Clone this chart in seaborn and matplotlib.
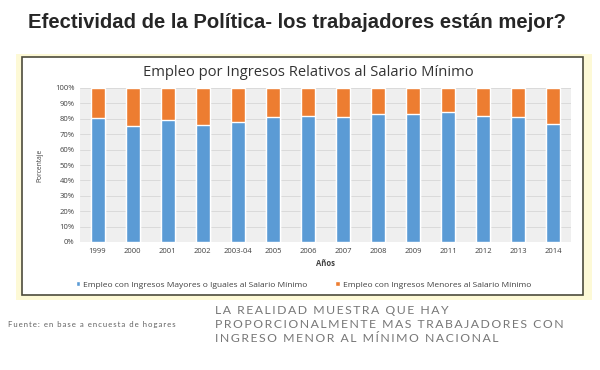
import numpy as np
import pandas as pd
import matplotlib
matplotlib.use("Agg")
import matplotlib.pyplot as plt
import seaborn as sns
from matplotlib.patches import Rectangle
from matplotlib.ticker import PercentFormatter

years = ["1999", "2000", "2001", "2002", "2003-04", "2005", "2006", "2007",
         "2008", "2009", "2011", "2012", "2013", "2014"]
mayores = [80.7, 75.5, 79.4, 76.2, 78.1, 81.2, 82.0, 81.2,
           83.3, 83.3, 84.6, 81.8, 81.2, 76.8]
menores = [19.3, 24.5, 20.6, 23.8, 21.9, 18.8, 18.0, 18.8,
           16.7, 16.7, 15.4, 18.2, 18.8, 23.2]
serie_may = "Empleo con Ingresos Mayores o Iguales al Salario Mínimo"
serie_men = "Empleo con Ingresos Menores al Salario Mínimo"
nota = ["LA REALIDAD MUESTRA QUE HAY",
        "PROPORCIONALMENTE MAS TRABAJADORES CON",
        "INGRESO MENOR AL MÍNIMO NACIONAL"]

df = pd.DataFrame({"anio": years, "may": mayores, "men": menores})
df["total"] = df["may"] + df["men"]

blue = "#5B9BD5"
orange = "#ED7D31"

sns.set_style("white")
plt.rcParams["font.family"] = ["Open Sans", "DejaVu Sans"]

W, H = 600, 370
fig = plt.figure(figsize=(6, 3.7), dpi=100)
fig.patch.set_facecolor("white")

def px(x0, y0, x1, y1):
    return (x0 / W, 1 - y1 / H, (x1 - x0) / W, (y1 - y0) / H)

def espaciar(s):
    # letter spacing like the slide text
    return "\u2009".join(s)

# yellow frame + dark inner border
r = px(16, 54, 592, 300)
fig.patches.append(Rectangle(r[:2], r[2], r[3], transform=fig.transFigure,
                             facecolor="#fdf9d6", edgecolor="none", zorder=-2))
r = px(22, 57, 583, 295)
fig.patches.append(Rectangle(r[:2], r[2], r[3], transform=fig.transFigure,
                             facecolor="white", edgecolor="#4d4b3c", lw=1.2, zorder=-1))

ax = fig.add_axes(px(80, 88, 571, 242))
ax.set_zorder(2)
ax.set_facecolor("#efefef")
sns.barplot(data=df, x="anio", y="total", color=orange, width=0.4,
            saturation=1, ax=ax, label=serie_men, zorder=3)
sns.barplot(data=df, x="anio", y="may", color=blue, width=0.4,
            saturation=1, ax=ax, label=serie_may, zorder=4)
ax.set_ylim(0, 100)
ax.set_yticks(np.arange(0, 101, 10))
ax.yaxis.set_major_formatter(PercentFormatter(decimals=0))
ax.grid(axis="y", color="#d6d6d6", lw=0.6, zorder=0)
ax.set_axisbelow(True)
for s in ax.spines.values():
    s.set_visible(False)
ax.tick_params(axis="both", length=0, labelsize=5.5, colors="#404040", pad=4)
ax.set_xlabel("Años", fontsize=5.5, fontweight="bold", color="#404040", labelpad=3)
ax.set_ylabel("Porcentaje", fontsize=4.8, color="#404040", labelpad=8)

h, l = ax.get_legend_handles_labels()
leg = ax.legend(h[::-1], l[::-1], loc="upper center", bbox_to_anchor=(0.455, -0.205),
                ncol=2, frameon=False, fontsize=6.0, handlelength=0.55,
                handleheight=0.55, handletextpad=0.35, columnspacing=3.3)
for t in leg.get_texts():
    t.set_color("#404040")

fig.text(308 / W, 1 - 72 / H, "Empleo por Ingresos Relativos al Salario Mínimo",
         ha="center", va="center", fontsize=10.6, color="#333333")

fig.text(297 / W, 1 - 22 / H, "Efectividad de la Política- los trabajadores están mejor?",
         ha="center", va="center", fontsize=14.6, fontweight="bold",
         family=["Liberation Sans", "DejaVu Sans"], color="#262626")

fig.text(8 / W, 1 - 325 / H, espaciar("Fuente: en base a encuesta de hogares"),
         ha="left", va="center", fontsize=5.6, color="#606060",
         family=["Lato", "DejaVu Sans"])
for i, linea in enumerate(nota):
    fig.text(215 / W, 1 - (311 + 13.8 * i) / H, espaciar(linea),
             ha="left", va="center", fontsize=8.8, fontweight="normal",
             family=["Lato", "DejaVu Sans"], color="#777777")

fig.savefig("out.png", dpi=100)
